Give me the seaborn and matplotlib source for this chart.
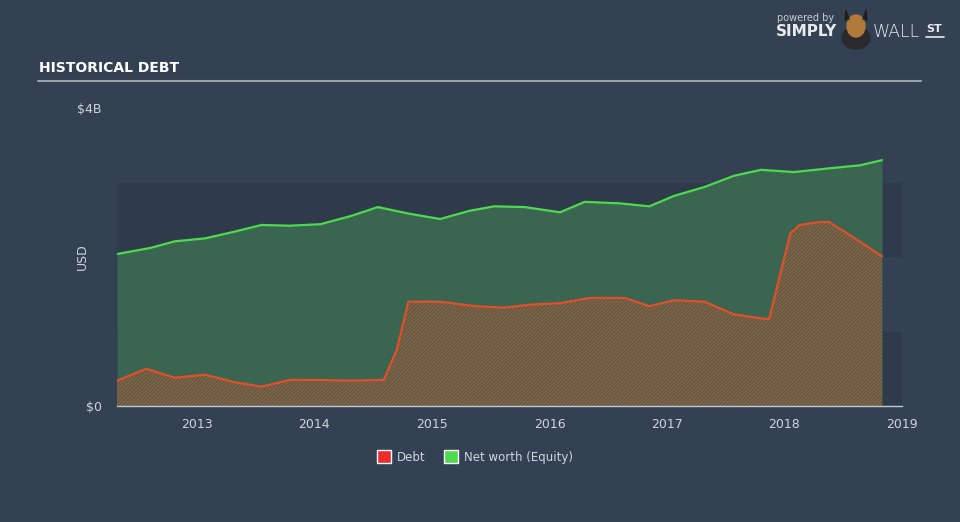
import numpy as np
import pandas as pd
import matplotlib
matplotlib.use("Agg")
import matplotlib.pyplot as plt
import seaborn as sns
from matplotlib.patches import Patch, Ellipse, Polygon

# ---- data (USD billions) ----
equity_dates = [2012.32, 2012.60, 2012.81, 2013.07, 2013.32, 2013.55, 2013.79, 2014.05,
                2014.31, 2014.54, 2014.81, 2015.07, 2015.32, 2015.53, 2015.79, 2016.09,
                2016.30, 2016.60, 2016.85, 2017.06, 2017.32, 2017.57, 2017.80, 2018.08,
                2018.38, 2018.64, 2018.83]
equity_values = [2.04, 2.12, 2.21, 2.25, 2.34, 2.43, 2.42, 2.44,
                 2.55, 2.67, 2.58, 2.51, 2.62, 2.68, 2.67, 2.60,
                 2.74, 2.72, 2.68, 2.82, 2.94, 3.09, 3.17, 3.14,
                 3.19, 3.23, 3.30]

debt_dates = [2012.32, 2012.57, 2012.81, 2013.07, 2013.32, 2013.55, 2013.79, 2014.05,
              2014.31, 2014.59, 2014.70, 2014.80, 2015.07, 2015.37, 2015.62, 2015.83,
              2016.09, 2016.34, 2016.64, 2016.85, 2017.06, 2017.32, 2017.57, 2017.83,
              2017.87, 2018.05, 2018.13, 2018.30, 2018.38, 2018.55, 2018.83]
debt_values = [0.34, 0.50, 0.38, 0.42, 0.32, 0.26, 0.35, 0.35,
               0.34, 0.35, 0.75, 1.40, 1.40, 1.34, 1.32, 1.36,
               1.38, 1.45, 1.45, 1.34, 1.42, 1.40, 1.23, 1.17,
               1.17, 2.32, 2.43, 2.47, 2.47, 2.30, 2.01]

x_ticks = [2013, 2014, 2015, 2016, 2017, 2018, 2019]
y_ticks = [0, 4]
y_tick_labels = ["$0", "$4B"]

BG = "#334152"
BAND = "#2f3b4b"
GREEN = "#4ddb4d"
GREEN_FILL = "#3a6550"
RED = "#e0502a"
HATCH = "#a45a3a"
TEXT = "#d0d5dc"

sns.set_theme(style="dark")
plt.rcParams["font.family"] = ["DejaVu Sans"]
plt.rcParams["hatch.color"] = HATCH
plt.rcParams["hatch.linewidth"] = 0.9

fig = plt.figure(figsize=(9.6, 5.22), dpi=100, facecolor=BG)
ax = fig.add_axes([117/960, 1-406/522, (902-117)/960, (406-108)/522])
ax.set_facecolor(BG)

# background bands
ax.axhspan(0, 1, color=BAND, zorder=0, lw=0)
ax.axhspan(2, 3, color=BAND, zorder=0, lw=0)

eq = pd.DataFrame({"date": equity_dates, "value": equity_values})
dt = pd.DataFrame({"date": debt_dates, "value": debt_values})

ax.fill_between(eq["date"], 0, eq["value"], color=GREEN_FILL, lw=0, zorder=1)
ax.fill_between(dt["date"], 0, dt["value"], facecolor="#46634f", edgecolor=HATCH,
                hatch="/////////", lw=0, zorder=2)
sns.lineplot(data=eq, x="date", y="value", color=GREEN, lw=1.6, ax=ax, zorder=3)
sns.lineplot(data=dt, x="date", y="value", color=RED, lw=1.6, ax=ax, zorder=3)

ax.set_xlim(2012.32, 2019.0)
ax.set_ylim(0, 4)
ax.set_xticks(x_ticks)
ax.set_xticklabels([str(t) for t in x_ticks], color=TEXT, fontsize=9)
ax.set_yticks(y_ticks)
ax.set_yticklabels(y_tick_labels, color=TEXT, fontsize=9)
ax.tick_params(axis="x", length=5, color="#c0c8d0", width=1, pad=4)
ax.tick_params(axis="y", length=0, pad=11)
ax.set_xlabel("")
ax.set_ylabel("USD", color=TEXT, fontsize=9)
ax.yaxis.set_label_coords((89 - 117) / 785, 0.5)
ax.grid(False)
for s in ["top", "right", "left"]:
    ax.spines[s].set_visible(False)
ax.spines["bottom"].set_color("#c0c8d0")
ax.spines["bottom"].set_linewidth(1)

# title and rule
fig.text(39/960, 1-68/522, "HISTORICAL DEBT", color="white", fontsize=10,
         fontweight="bold", va="center", ha="left",
         family=["Liberation Sans Narrow", "DejaVu Sans"])
fig.add_artist(plt.Line2D([38/960, 921/960], [1-81/522, 1-81/522],
                          color="#9aa3ad", lw=1.5))

# logo
fig.text(777/960, 1-18/522, "powered by", color="#c8cdd3", fontsize=7, va="center")
fig.text(776/960, 1-32/522, "SIMPLY", color="#e8eaec", fontsize=11,
         fontweight="bold", va="center")
fig.text(873/960, 1-32/522, "WALL", color="#e8eaec", fontsize=12.5,
         fontweight="light", va="center")
fig.text(926/960, 1-29/522, "ST", color="#e8eaec", fontsize=8, fontweight="bold",
         va="center")
fig.add_artist(plt.Line2D([926/960, 944/960], [1-37/522, 1-37/522],
                          color="#e8eaec", lw=1.2))
fig.add_artist(Ellipse((856/960, 1-38/522), 28/960, 22/522, color="#2a2a2e",
                       transform=fig.transFigure))
fig.add_artist(Ellipse((856/960, 1-26/522), 18/960, 22/522, color="#b07a3a",
                       transform=fig.transFigure))
fig.add_artist(Polygon([[845/960, 1-20/522], [846/960, 1-10/522], [849/960, 1-19/522]],
                       color="#202020", transform=fig.transFigure))
fig.add_artist(Polygon([[867/960, 1-20/522], [866/960, 1-10/522], [863/960, 1-19/522]],
                       color="#202020", transform=fig.transFigure))

# legend
handles = [Patch(facecolor="#ee2b2b", label="Debt"),
           Patch(facecolor="#4ddb4d", label="Net worth (Equity)")]
leg = fig.legend(handles=handles, loc="center", bbox_to_anchor=(475/960, 1-457/522),
                 ncol=2, frameon=False, fontsize=8.5, handlelength=1.2,
                 handleheight=1.2, columnspacing=1.5, handletextpad=0.5)
for t in leg.get_texts():
    t.set_color(TEXT)

fig.savefig("out.png", dpi=100, facecolor=BG)
